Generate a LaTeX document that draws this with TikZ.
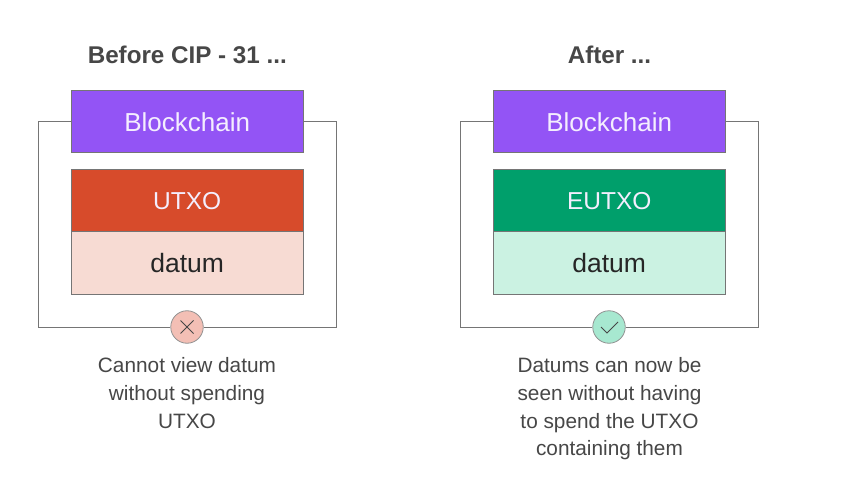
\documentclass[tikz,border=0pt]{standalone}
\usepackage{fontspec}
\setmainfont{Liberation Sans}
\definecolor{ink}{HTML}{474747}
\definecolor{edge}{HTML}{757575}
\definecolor{chain}{HTML}{9354F5}
\definecolor{redA}{HTML}{D74B2B}
\definecolor{redB}{HTML}{F7DBD3}
\definecolor{redC}{HTML}{F3BFB5}
\definecolor{greenA}{HTML}{009F6B}
\definecolor{greenB}{HTML}{CBF2E2}
\definecolor{greenC}{HTML}{A7E8D0}
\tikzset{
  x=1pt,y=-1pt,
  box/.style={draw=edge,line width=1pt,minimum width=232pt,inner sep=0pt,anchor=center},
  chaintext/.style={text=white!90!chain,font=\fontsize{26}{30}\selectfont},
  lighttext/.style={text=white!90!chain,font=\fontsize{24.5}{28}\selectfont},
  darktext/.style={text=black!85,font=\fontsize{26.5}{30}\selectfont},
  heading/.style={text=ink,font=\fontsize{24.2}{28}\selectfont\bfseries},
  caption/.style={text=ink,font=\fontsize{20.8}{27.6}\selectfont,align=center,anchor=north},
  frameline/.style={draw=edge,line width=1pt},
  badge/.style={circle,draw=edge!80,line width=.8pt,minimum size=32.5pt,inner sep=0pt},
  glyph/.style={draw=ink,line width=1pt}
}
\begin{document}
\begin{tikzpicture}
\useasboundingbox (0,0) rectangle (849,481);
\fill[white] (0,0) rectangle (849,481);
% left
\node[heading] (h1) at (187.3,55) {Before CIP - 31 ...};
\node[badge,fill=redC] (c1) at (187,327) {};
\node[box,fill=chain,minimum height=62pt,chaintext] (b1) at (187.2,122) {Blockchain};
\node[box,fill=redA,minimum height=63pt,lighttext] (u1) at (187.2,200.8) {UTXO};
\node[box,fill=redB,minimum height=62pt,darktext] (d1) at (187.2,263) {datum};
\draw[frameline] (b1.west) -- ++(-32.7,0) |- (c1.west);
\draw[frameline] (b1.east) -- ++(32.8,0) |- (c1.east);
\draw[glyph] (180.5,320.5) -- (193.5,333.5) (193.5,320.5) -- (180.5,333.5);
\node[caption] (t1) at (187,354.3) {Cannot view datum\\without spending\\UTXO};
% right
\node[heading] (h2) at (609.5,55) {After ...};
\node[badge,fill=greenC] (c2) at (609,327) {};
\node[box,fill=chain,minimum height=62pt,chaintext] (b2) at (609.2,122) {Blockchain};
\node[box,fill=greenA,minimum height=63pt,lighttext] (u2) at (609.2,200.8) {EUTXO};
\node[box,fill=greenB,minimum height=62pt,darktext] (d2) at (609.2,263) {datum};
\draw[frameline] (b2.west) -- ++(-32.7,0) |- (c2.west);
\draw[frameline] (b2.east) -- ++(32.8,0) |- (c2.east);
\draw[glyph] (601,327) -- (607,333) -- (618,322);
\node[caption] (t2) at (609.5,354.3) {Datums can now be\\seen without having\\to spend the UTXO\\containing them};
\end{tikzpicture}
\end{document}
